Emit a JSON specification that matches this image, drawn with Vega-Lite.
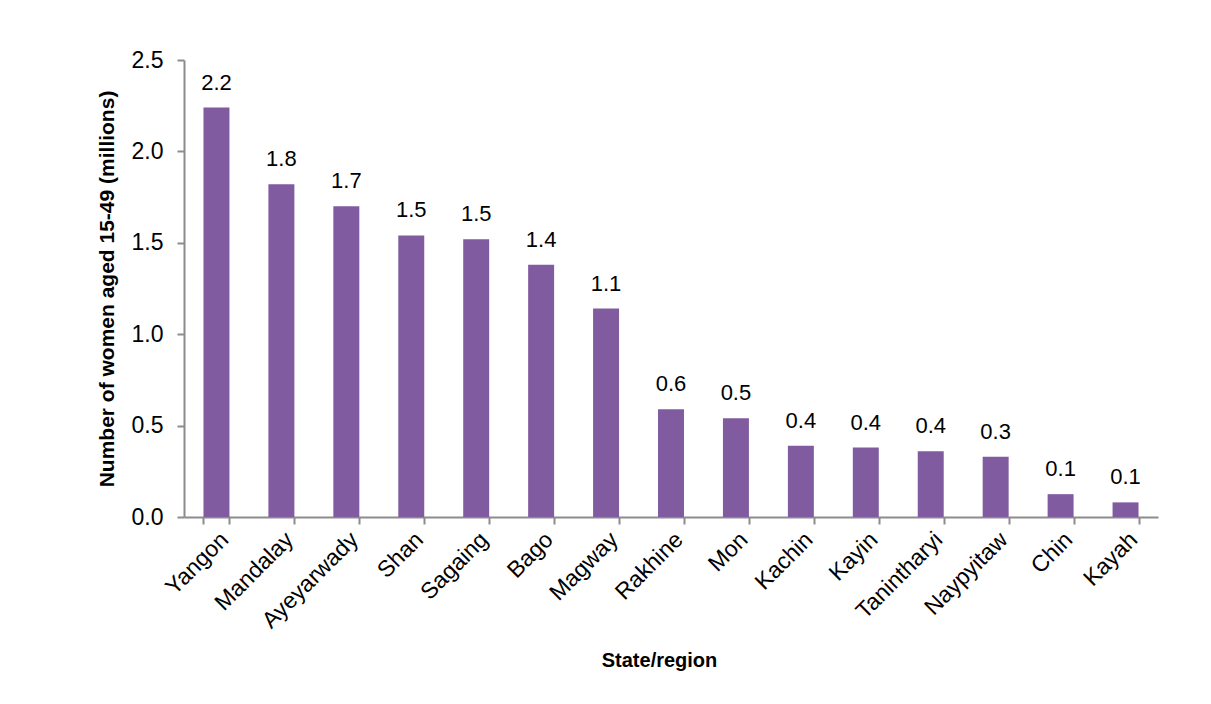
{
  "$schema": "https://vega.github.io/schema/vega-lite/v6.json",
  "width": 974,
  "height": 457,
  "autosize": {"type": "none"},
  "padding": {"left": 184, "top": 60, "right": 53, "bottom": 187},
  "background": "white",
  "config": {
    "font": "Liberation Sans",
    "view": {"stroke": null},
    "axis": {"grid": false, "domainColor": "#8c8c8c", "tickColor": "#8c8c8c", "domainWidth": 2, "tickWidth": 2, "labelColor": "#000000", "titleColor": "#000000", "labelFont": "Liberation Sans", "titleFont": "Liberation Sans"}
  },
  "data": {
    "values": [
      {"region": "Yangon", "value": 2.24},
      {"region": "Mandalay", "value": 1.82},
      {"region": "Ayeyarwady", "value": 1.70},
      {"region": "Shan", "value": 1.54},
      {"region": "Sagaing", "value": 1.52},
      {"region": "Bago", "value": 1.38},
      {"region": "Magway", "value": 1.14},
      {"region": "Rakhine", "value": 0.59},
      {"region": "Mon", "value": 0.54},
      {"region": "Kachin", "value": 0.39},
      {"region": "Kayin", "value": 0.38},
      {"region": "Tanintharyi", "value": 0.36},
      {"region": "Naypyitaw", "value": 0.33},
      {"region": "Chin", "value": 0.125},
      {"region": "Kayah", "value": 0.08}
    ]
  },
  "encoding": {
    "x": {
      "field": "region", "type": "nominal", "sort": null,
      "scale": {"paddingInner": 0.6, "paddingOuter": 0.3},
      "axis": {"title": "State/region", "labelAngle": -45, "labelFontSize": 23, "titleFontSize": 20, "titleFontWeight": "bold", "tickBand": "extent", "tickSize": 7, "labelPadding": 4, "titlePadding": 18, "titleX": 475}
    },
    "y": {
      "field": "value", "type": "quantitative",
      "scale": {"domain": [0, 2.5], "nice": false},
      "axis": {"title": "Number of women aged 15-49 (millions)", "values": [0, 0.5, 1, 1.5, 2, 2.5], "format": ".1f", "labelFontSize": 23, "titleFontSize": 21, "titleFontWeight": "bold", "tickSize": 7, "labelPadding": 14, "titlePadding": 14}
    }
  },
  "layer": [
    {"mark": {"type": "bar", "color": "#805ba0"}},
    {
      "mark": {"type": "text", "dy": -25, "fontSize": 22, "color": "#000000", "font": "Liberation Sans"},
      "encoding": {"text": {"field": "value", "type": "quantitative", "format": ".1f"}}
    }
  ]
}
